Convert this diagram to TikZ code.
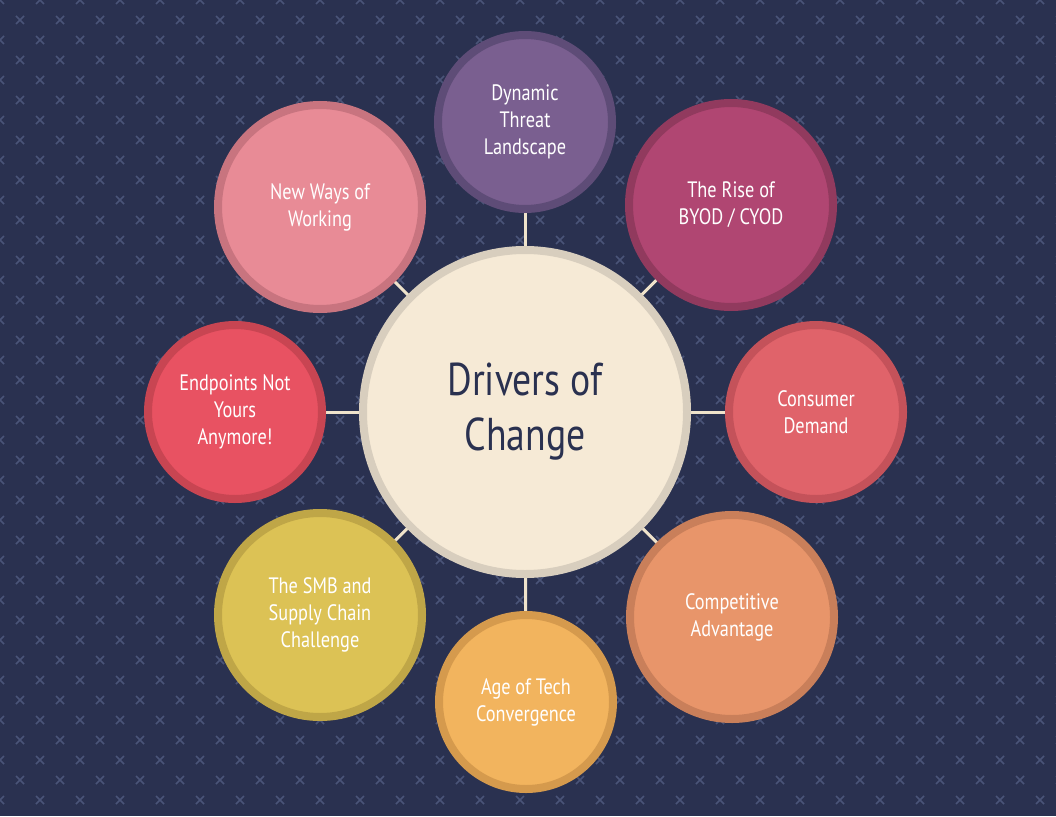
\documentclass[tikz,border=0pt]{standalone}
\usepackage{fontspec}
\setmainfont{PT Sans}[FakeStretch=0.82]
\pgfdeclarelayer{bglayer}
\pgfdeclarelayer{lines}
\pgfsetlayers{bglayer,lines,main}
\definecolor{bg}{HTML}{2A3150}
\definecolor{crossc}{HTML}{4A5478}
\definecolor{conn}{HTML}{EFE3CB}
\definecolor{cfill}{HTML}{F6EAD6}
\definecolor{cdraw}{HTML}{D8CEBE}
\definecolor{dtfill}{HTML}{7A5F90}
\definecolor{dtdraw}{HTML}{5E4C77}
\definecolor{byfill}{HTML}{B04672}
\definecolor{bydraw}{HTML}{913A5E}
\definecolor{nwfill}{HTML}{E88B96}
\definecolor{nwdraw}{HTML}{C8747F}
\definecolor{cdfill}{HTML}{E0636A}
\definecolor{cddraw}{HTML}{C4525A}
\definecolor{epfill}{HTML}{E85262}
\definecolor{epdraw}{HTML}{C84552}
\definecolor{cafill}{HTML}{E8956A}
\definecolor{cadraw}{HTML}{C97F5A}
\definecolor{atfill}{HTML}{F2B45E}
\definecolor{atdraw}{HTML}{D59A4D}
\definecolor{smfill}{HTML}{DCC255}
\definecolor{smdraw}{HTML}{BFA647}
\tikzset{
  hub/.style={circle, inner sep=0pt, line width=8pt, minimum size=324pt, fill=cfill, draw=cdraw,
    text=bg, align=center, font=\fontsize{46}{55}\selectfont},
  small/.style={circle, inner sep=0pt, line width=8pt, minimum size=174pt, text=white,
    align=center, font=\fontsize{22.3}{27}\selectfont},
  big/.style={small, minimum size=204pt},
  connector/.style={draw=conn, line width=3pt},
  crossmark/.style={draw=crossc, line width=1.6pt}
}
\begin{document}
\begin{tikzpicture}[x=1pt,y=-1pt]
\useasboundingbox (0,0) rectangle (1056,816);
\begin{pgfonlayer}{bglayer}
\fill[bg] (0,0) rectangle (1056,816);
\foreach \i in {0,...,27}{
  \foreach \j in {0,...,20}{
    \draw[crossmark] ({40*\i-4},{40*\j-4}) -- ++(8,8) ({40*\i-4},{40*\j+4}) -- ++(8,-8);
  }
  \foreach \j in {0,...,19}{
    \draw[crossmark] ({40*\i+16},{40*\j+16}) -- ++(8,8) ({40*\i+16},{40*\j+24}) -- ++(8,-8);
  }
}
\end{pgfonlayer}
\node[hub] (c) at (525,412) {Drivers of\\Change};
\node[small, fill=dtfill, draw=dtdraw] (dt) at (525,122) {Dynamic\\Threat\\Landscape};
\node[big, fill=byfill, draw=bydraw] (by) at (731,205) {The Rise of\\BYOD / CYOD};
\node[big, fill=nwfill, draw=nwdraw] (nw) at (320,207) {New Ways of\\Working};
\node[small, fill=cdfill, draw=cddraw] (cd) at (816,412) {Consumer\\Demand};
\node[small, fill=epfill, draw=epdraw] (ep) at (235,412) {Endpoints Not\\Yours\\Anymore!};
\node[big, fill=cafill, draw=cadraw] (ca) at (732,617) {Competitive\\Advantage};
\node[small, fill=atfill, draw=atdraw] (at) at (526,702) {Age of Tech\\Convergence};
\node[big, fill=smfill, draw=smdraw] (sm) at (320,615) {The SMB and\\Supply Chain\\Challenge};
\begin{pgfonlayer}{lines}
\foreach \n in {dt,by,nw,cd,ep,ca,at,sm}{
  \draw[connector] (c.center) -- (\n.center);
}
\end{pgfonlayer}
\end{tikzpicture}
\end{document}
